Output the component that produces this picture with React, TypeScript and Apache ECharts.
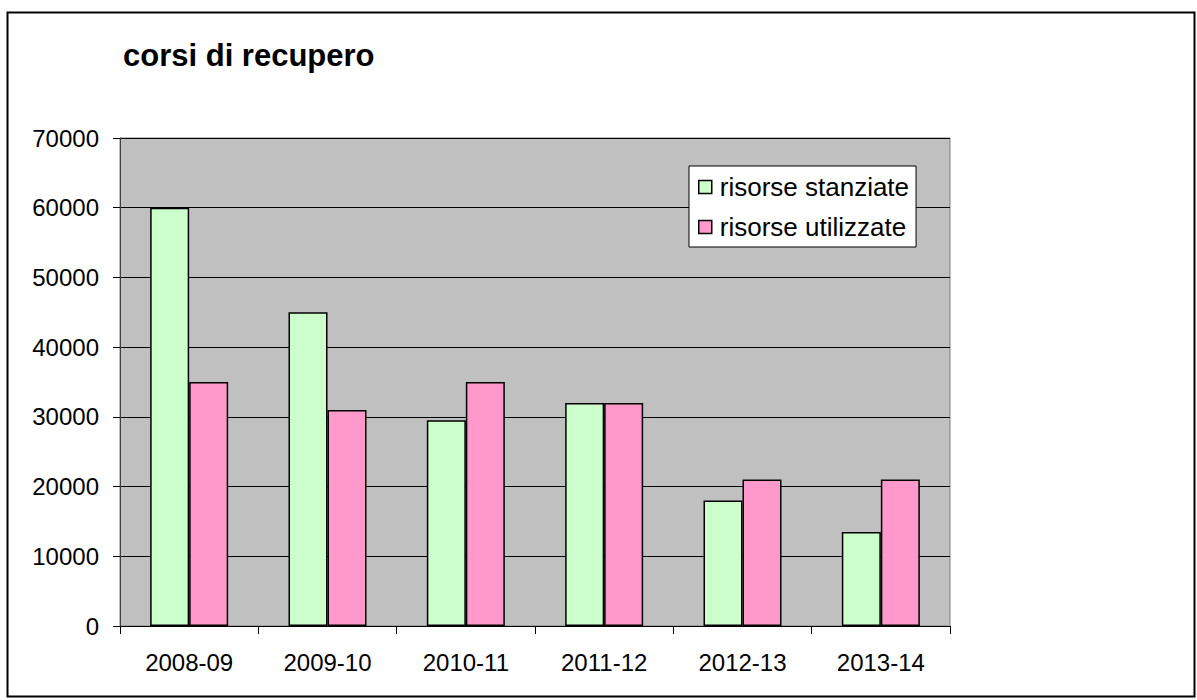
import React, { useEffect, useRef } from "react";
import * as echarts from "echarts";

const categories = ["2008-09", "2009-10", "2010-11", "2011-12", "2012-13", "2013-14"];
const stanziate = [60000, 45000, 29500, 32000, 18000, 13500];
const utilizzate = [35000, 31000, 35000, 32000, 21000, 21000];
const seriesNames = ["risorse stanziate", "risorse utilizzate"];
const titleText = "corsi di recupero";

export default function App() {
  const ref = useRef<HTMLDivElement>(null);
  useEffect(() => {
    document.body.style.margin = "0";
    const chart = echarts.init(ref.current!, null, { renderer: "svg" });
    const font = "Liberation Sans, Arial, sans-serif";
    chart.setOption({
      animation: false,
      backgroundColor: "#ffffff",
      title: {
        text: titleText,
        left: 118,
        top: 35,
        textStyle: { fontFamily: font, fontSize: 31, fontWeight: "bold", color: "#000" },
      },
      graphic: [
        {
          type: "rect",
          shape: { x: 7.5, y: 12.5, width: 1187, height: 684 },
          style: { fill: "none", stroke: "#000", lineWidth: 2 },
          z: 100,
        },
      ],
      legend: {
        data: seriesNames,
        orient: "vertical",
        left: 689,
        top: 166,
        padding: [8, 7, 7, 9],
        itemGap: 14,
        itemWidth: 13,
        itemHeight: 13,
        icon: "rect",
        backgroundColor: "#ffffff",
        borderColor: "#000",
        borderWidth: 1,
        textStyle: { fontFamily: font, fontSize: 26, color: "#000", padding: [0, 0, 0, 3] },
        itemStyle: { borderColor: "#000", borderWidth: 1.5 },
      },
      grid: {
        left: 120,
        top: 138,
        right: 247,
        bottom: 74,
        show: true,
        backgroundColor: "#C0C0C0",
        borderColor: "#808080",
        borderWidth: 1,
      },
      xAxis: {
        type: "category",
        data: categories,
        axisLine: { lineStyle: { color: "#000", width: 1 } },
        axisTick: { show: true, length: 8, lineStyle: { color: "#000" } },
        axisLabel: { fontFamily: font, fontSize: 24, color: "#000", margin: 24 },
      },
      yAxis: {
        type: "value",
        min: 0,
        max: 70000,
        interval: 10000,
        axisLine: { show: true, lineStyle: { color: "#404040", width: 1 } },
        axisTick: { show: true, length: 7, lineStyle: { color: "#000" } },
        axisLabel: {
          fontFamily: font,
          fontSize: 24,
          color: "#000",
          margin: 21,
          formatter: (v: number) => String(v),
        },
        splitLine: { show: true, lineStyle: { color: "#000", width: 1 } },
      },
      series: [
        {
          name: seriesNames[0],
          type: "bar",
          data: stanziate,
          barWidth: 39,
          barGap: "0%",
          itemStyle: { color: "#CCFFCC", borderColor: "#000", borderWidth: 1.5 },
        },
        {
          name: seriesNames[1],
          type: "bar",
          data: utilizzate,
          barWidth: 39,
          barGap: "0%",
          itemStyle: { color: "#FF99CC", borderColor: "#000", borderWidth: 1.5 },
        },
      ],
    });
    return () => chart.dispose();
  }, []);
  return <div ref={ref} style={{ width: 1197, height: 700 }} />;
}
